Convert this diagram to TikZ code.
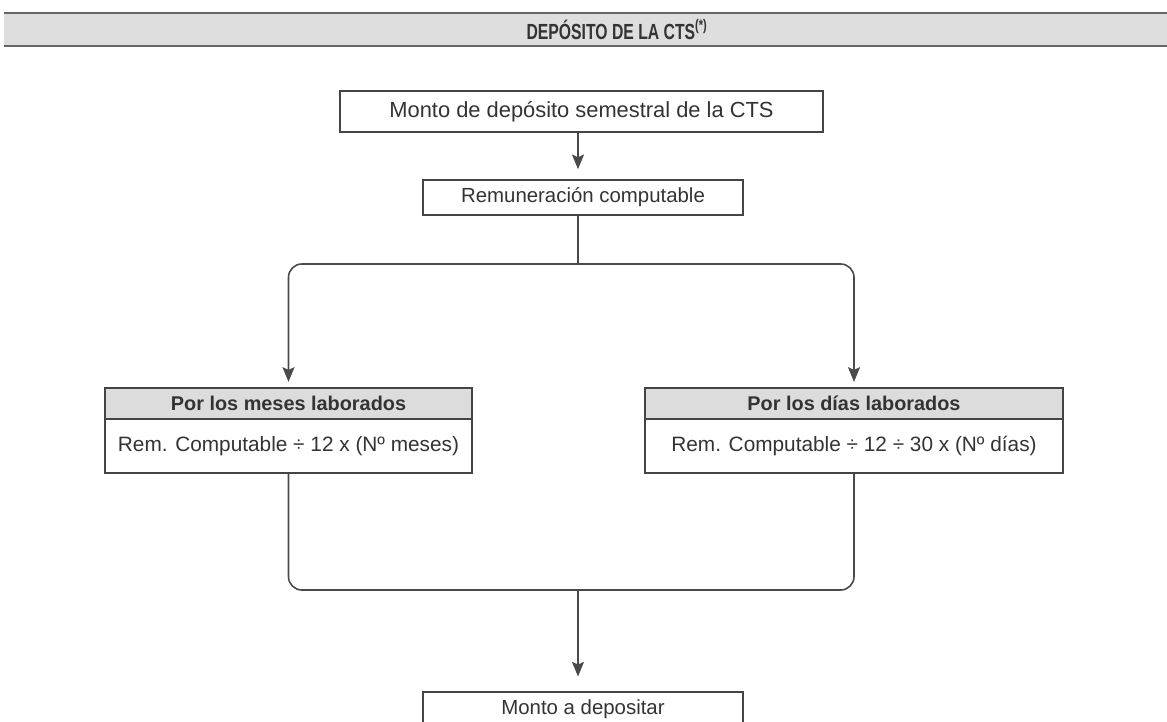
\documentclass[tikz,border=0pt]{standalone}
\usepackage{fontspec}
\setmainfont{Liberation Sans}
\newfontfamily\condfont{Liberation Sans}[FakeStretch=0.72]
\usetikzlibrary{arrows.meta}
\definecolor{txt}{HTML}{333333}
\definecolor{boxc}{HTML}{444444}
\definecolor{linec}{HTML}{4A4A4A}
\definecolor{barfill}{HTML}{DEDEDE}
\definecolor{barline}{HTML}{666666}
\definecolor{headc}{HTML}{DCDCDC}
\def\px{0.75pt}
\begin{document}
\begin{tikzpicture}[x=0.75pt,y=-0.75pt,
  box/.style={draw=boxc, line width=1.2pt, text=txt, inner sep=0pt, align=center},
  conn/.style={draw=linec, line width=1.2pt},
  arr/.style={conn, -{Stealth[length=11pt,width=9pt,inset=2pt]}},
  bodyfont/.style={font=\fontsize{15.6}{18}\selectfont},
  headfont/.style={font=\bfseries\fontsize{14.9}{18}\selectfont},
]
\useasboundingbox (0,0) rectangle (1167,721);
% title bar
\fill[barfill] (4,13) rectangle (1167,46);
\draw[barline, line width=2.2pt] (4,13) -- (1167,13);
\draw[barline, line width=2.2pt] (4,46) -- (1167,46);
\node[text=txt, inner sep=0pt] (title) at (617,29.5) {\condfont\bfseries\fontsize{16.4}{18}\selectfont DEPÓSITO DE LA CTS\textsuperscript{(*)}};

% boxes
\node[box, minimum width=483*\px, minimum height=41*\px, font=\fontsize{16.4}{19}\selectfont] (box1) at (581.5,111.5) {Monto de depósito semestral de la CTS};
\node[box, font=\fontsize{15.3}{18}\selectfont, minimum width=320*\px, minimum height=35*\px] (box2) at (583,197.5) {Remuneración computable};

\node[box, headfont, fill=headc, minimum width=367*\px, minimum height=31*\px] (lhead) at (288.5,403.5) {Por los meses laborados};
\node[box, bodyfont, minimum width=367*\px, minimum height=54*\px] (lbody) at (288.5,446) {Rem. Computable ÷ 12 x (Nº meses)};

\node[box, headfont, fill=headc, minimum width=418*\px, minimum height=31*\px] (rhead) at (854,403.5) {Por los días laborados};
\node[box, bodyfont, minimum width=418*\px, minimum height=54*\px] (rbody) at (854,446) {Rem. Computable ÷ 12 ÷ 30 x (Nº días)};

\node[box, font=\fontsize{15.3}{18}\selectfont, minimum width=320*\px, minimum height=34*\px] (box4) at (583,709) {Monto a depositar};

% connectors
\coordinate (split) at (578,264);
\coordinate (merge) at (578,590);
\draw[arr, shorten >=7.5pt] (box1.south -| split) -- (box2.north -| split);
\draw[conn] (box2.south -| split) -- (split);
\draw[arr, rounded corners=10pt, shorten >=4pt] (split) -| (lhead.north);
\draw[arr, rounded corners=10pt, shorten >=4pt] (split) -| (rhead.north);
\draw[conn, rounded corners=10pt] (lbody.south) |- (merge) -| (rbody.south);
\draw[arr, shorten >=11pt] (merge) -- (box4.north -| merge);
\end{tikzpicture}
\end{document}
